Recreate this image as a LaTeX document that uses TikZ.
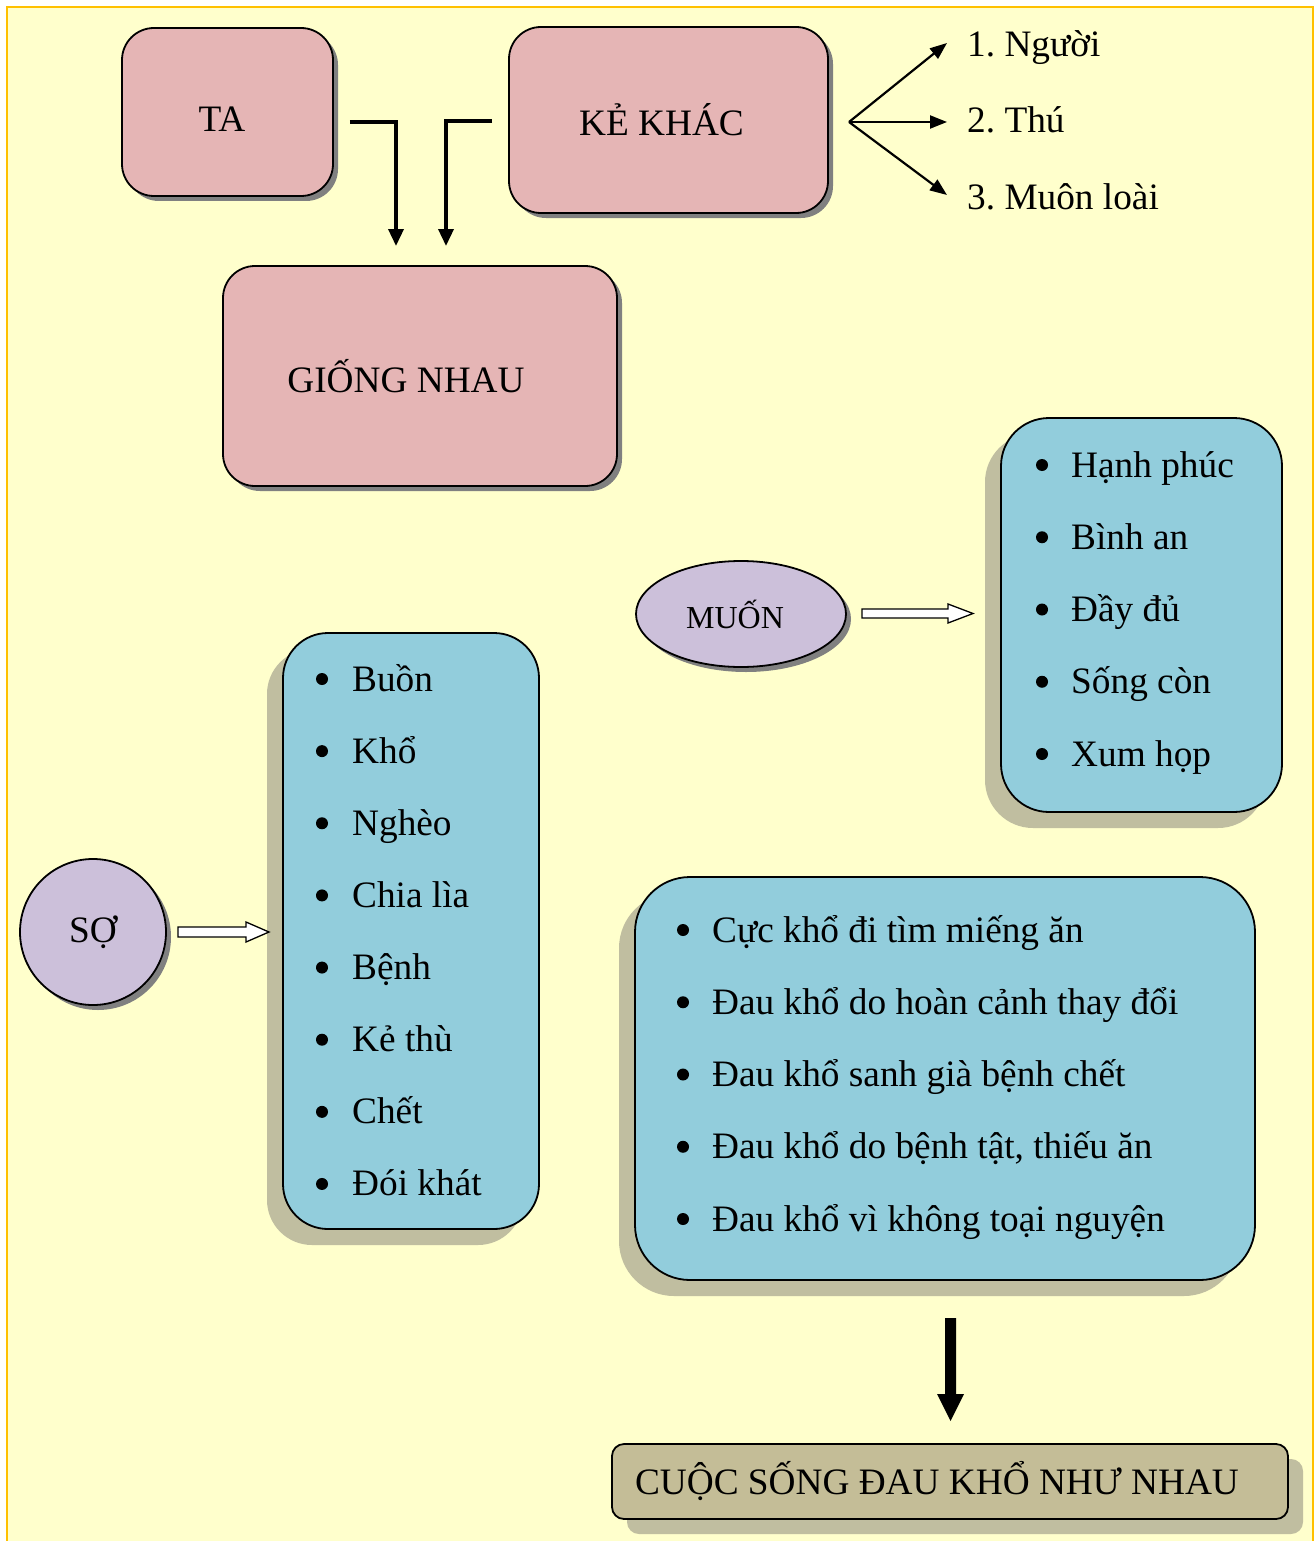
\documentclass[tikz,border=0pt]{standalone}
\usepackage{fontspec}
\setmainfont{Liberation Serif}
\usetikzlibrary{arrows.meta,shapes.geometric,shadows}
\definecolor{bgyellow}{HTML}{FFFFCC}
\definecolor{frameorange}{HTML}{FFC000}
\definecolor{pinkfill}{HTML}{E5B5B5}
\definecolor{bluefill}{HTML}{92CDDC}
\definecolor{lavender}{HTML}{CCC0DA}
\definecolor{khaki}{HTML}{C4BD97}
\definecolor{darkshadow}{HTML}{808080}
\definecolor{oliveshadow}{HTML}{C0BEA0}
\begin{document}
\begin{tikzpicture}[x=1pt,y=-1pt,
  every node/.style={font=\fontsize{37.3pt}{44pt}\selectfont},
  pinkbox/.style={draw, line width=1.8pt, fill=pinkfill, rounded corners=32pt, inner sep=0pt,
    drop shadow={shadow xshift=5pt, shadow yshift=-5pt, fill=darkshadow, opacity=1}},
  bluebox/.style={draw, line width=1.8pt, fill=bluefill, rounded corners=48pt, inner sep=0pt,
    drop shadow={shadow xshift=-16pt, shadow yshift=-16pt, fill=oliveshadow, opacity=1}},
  ovalnode/.style={draw, line width=1.8pt, fill=lavender, inner sep=0pt,
    drop shadow={shadow xshift=5pt, shadow yshift=-5pt, fill=darkshadow, opacity=1}},
  resultbox/.style={draw, line width=1.8pt, fill=khaki, rounded corners=12pt, inner sep=0pt,
    drop shadow={shadow xshift=15pt, shadow yshift=-15pt, fill=oliveshadow, opacity=1}},
  bulletdot/.style={circle, fill=black, minimum size=12pt, inner sep=0pt},
  itemtext/.style={anchor=base west, inner sep=0pt},
  elbow/.style={line width=3.5pt, -{Triangle[length=17pt,width=15pt]}},
  fanarrow/.style={line width=2.2pt, -{Triangle[length=17pt,width=13pt]}},
  hollowarrow/.style={draw=black, fill=white, line width=1.3pt},
  bigarrow/.style={fill=black}
]
\useasboundingbox (0,0) rectangle (1316,1541);
\fill[bgyellow] (7,7) rectangle (1313,1550);
\draw[frameorange, line width=2.5pt] (7,7) rectangle (1313,1550);

% top boxes
\node[pinkbox, minimum width=211pt, minimum height=168pt, text height=40pt, text depth=0pt] (ta) at (227.5,112) {TA\hspace{11pt}\mbox{}};
\node[pinkbox, minimum width=319pt, minimum height=186pt] (kk) at (668.5,120) {KẺ KHÁC\hspace{14pt}\mbox{}};
\node[pinkbox, minimum width=394pt, minimum height=220pt] (gn) at (420,376) {GIỐNG NHAU\hspace{28pt}\mbox{}};

% elbow arrows into GIỐNG NHAU
\coordinate (taend) at (396,246);
\coordinate (kkend) at (446,246);
\draw[elbow] ([shift={(16pt,-10pt)}]ta.east) -| (taend);
\draw[elbow] ([shift={(-16pt,-1pt)}]kk.west) -| (kkend);

% fan from KẺ KHÁC
\coordinate (fan) at (849,122);
\coordinate (t1) at (947,43);
\coordinate (t2) at (947,122);
\coordinate (t3) at (947,195);
\draw[fanarrow] (fan) -- (t1);
\draw[fanarrow] (fan) -- (t2);
\draw[fanarrow] (fan) -- (t3);
\node[itemtext] (n1) at (967,57) {1.\ Người};
\node[itemtext] (n2) at (967,133) {2.\ Thú};
\node[itemtext] (n3) at (967,209) {3.\ Muôn loài};

% MUỐN
\node[ovalnode, ellipse, minimum width=210pt, minimum height=106pt, font=\fontsize{32pt}{38pt}\selectfont] (muon) at (741,614) {MUỐN\hspace{12pt}\mbox{}};
\node[bluebox, minimum width=281pt, minimum height=394pt] (mlist) at (1141.5,615) {};
\foreach \t [count=\i from 0] in {Hạnh phúc, Bình an, Đầy đủ, Sống còn, Xum họp} {
  \node[bulletdot] (mb\i) at (1042,465+72.25*\i) {};
  \node[itemtext] (mt\i) at (1071,477+72.25*\i) {\t};
}
\draw[hollowarrow] (862,609) -- (948,609) -- (948,604) -- (973,613.5) -- (948,623) -- (948,618) -- (862,618) -- cycle;

% SỢ
\node[ovalnode, circle, minimum size=146pt] (so) at (93,932) {SỢ};
\node[bluebox, rounded corners=45pt, minimum width=256pt, minimum height=596pt] (slist) at (411,931) {};
\foreach \t [count=\i from 0] in {Buồn, Khổ, Nghèo, Chia lìa, Bệnh, Kẻ thù, Chết, Đói khát} {
  \node[bulletdot] (sb\i) at (322,679+72.14*\i) {};
  \node[itemtext] (st\i) at (352,691+72.14*\i) {\t};
}
\draw[hollowarrow] (178,927) -- (246,927) -- (246,922) -- (269,932) -- (246,942) -- (246,937) -- (178,937) -- cycle;

% bottom list
\node[bluebox, rounded corners=55pt, minimum width=620pt, minimum height=403pt] (dlist) at (945,1078.5) {};
\foreach \t [count=\i from 0] in {Cực khổ đi tìm miếng ăn, Đau khổ do hoàn cảnh thay đổi, Đau khổ sanh già bệnh chết, {Đau khổ do bệnh tật, thiếu ăn}, Đau khổ vì không toại nguyện} {
  \node[bulletdot] (db\i) at (683,930+72.25*\i) {};
  \node[itemtext] (dt\i) at (712,942+72.25*\i) {\t};
}

% big arrow and result
\node[resultbox, minimum width=676pt, minimum height=75pt] (cs) at (950,1481.5) {CUỘC SỐNG ĐAU KHỔ NHƯ NHAU\hspace{26pt}\mbox{}};
\fill[bigarrow] (945,1318) -- (956,1318) -- (956,1394) -- (964,1394) -- (950.5,1421) -- (937,1394) -- (945,1394) -- cycle;
\end{tikzpicture}
\end{document}
